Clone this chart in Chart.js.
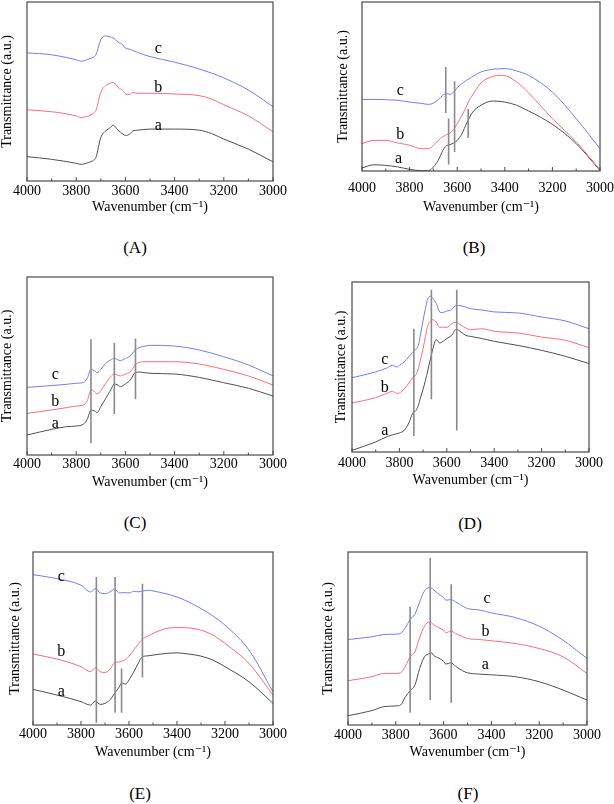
<!DOCTYPE html>
<html>
<head>
<meta charset="utf-8">
<title>FTIR spectra (A)-(F)</title>
<script src="https://cdn.jsdelivr.net/npm/chart.js@4.4.1/dist/chart.umd.min.js"></script>
<style>
  html, body { margin: 0; padding: 0; background: #fff; }
  body { position: relative; width: 614px; height: 804px; overflow: hidden; }
  canvas { position: absolute; }
  .tag {
    position: absolute;
    font: 17px "Liberation Serif", "DejaVu Serif", serif;
    color: #000;
    transform: translate(-50%, -50%);
    white-space: nowrap;
  }
</style>
</head>
<body>
<script>
// ============================================
// Data - wavenumber (cm-1) and transmittance (a.u., 0..100 of plot height)
// ============================================
const waveA = [4000, 3900, 3800, 3780, 3750, 3730, 3720, 3700, 3680, 3660, 3650, 3630, 3610, 3600, 3580, 3570, 3550, 3500, 3400, 3300, 3250, 3200, 3100, 3000]
const cA = [71.6, 70.5, 67.7, 66.9, 68.2, 69.2, 70.5, 78.9, 81.1, 80.4, 80.0, 77.6, 76.0, 74.2, 73.6, 72.9, 71.8, 69.5, 66.4, 62.6, 60.3, 57.6, 50.8, 41.5]
const bA = [39.8, 38.7, 36.4, 35.5, 36.4, 37.8, 39.3, 49.5, 53.3, 54.6, 55.1, 52.3, 50.5, 48.6, 48.4, 49.5, 49.0, 49.0, 48.6, 47.7, 45.8, 42.6, 36.4, 27.5]
const aA = [13.6, 12.1, 9.9, 9.3, 10.3, 11.6, 13.1, 24.3, 28.0, 29.9, 31.2, 28.4, 26.2, 25.4, 26.5, 28.0, 28.4, 29.0, 29.0, 28.4, 26.5, 23.4, 17.8, 10.7]

const waveB = [4000, 3950, 3900, 3850, 3800, 3750, 3720, 3700, 3680, 3660, 3645, 3630, 3615, 3600, 3580, 3560, 3550, 3540, 3500, 3450, 3420, 3400, 3350, 3300, 3200, 3100, 3000]
const cB = [42.2, 42.4, 42.2, 41.8, 40.8, 40.0, 39.4, 40.2, 42.2, 44.8, 45.8, 45.4, 46.7, 49.3, 51.7, 53.8, 54.6, 55.5, 58.6, 60.2, 60.5, 60.6, 59.2, 56.6, 46.7, 31.0, 13.2]
const bB = [16.2, 18.1, 18.1, 16.6, 15.2, 13.2, 13.2, 15.2, 18.0, 20.3, 21.5, 22.5, 24.5, 28.0, 33.0, 38.5, 41.8, 44.0, 52.1, 56.0, 56.6, 56.4, 52.7, 46.2, 31.0, 17.2, 0.8]
const aB = [1.8, 3.7, 3.3, 2.4, 1.0, 0.2, 0.2, 2.4, 6.3, 12.2, 15.0, 15.6, 16.6, 18.1, 22.1, 28.4, 31.0, 33.9, 38.9, 41.4, 41.2, 40.8, 38.9, 35.5, 27.6, 16.2, 0.3]

const waveC = [4000, 3900, 3840, 3800, 3770, 3755, 3740, 3725, 3715, 3700, 3680, 3660, 3645, 3630, 3620, 3600, 3580, 3560, 3540, 3520, 3500, 3400, 3300, 3200, 3100, 3000]
const cC = [38.0, 39.0, 39.7, 40.3, 40.8, 43.1, 48.1, 47.2, 46.3, 48.1, 51.5, 53.4, 54.3, 53.4, 53.0, 54.3, 55.6, 59.0, 60.5, 61.2, 61.6, 61.2, 59.0, 55.2, 50.6, 44.4]
const bC = [23.4, 25.3, 26.6, 27.5, 28.1, 30.5, 36.5, 35.6, 34.3, 36.1, 40.3, 44.0, 45.5, 44.8, 44.4, 45.5, 46.8, 50.6, 52.2, 52.4, 52.4, 52.4, 51.1, 48.1, 44.4, 39.3]
const aC = [11.2, 14.4, 15.9, 16.3, 17.4, 20.0, 25.3, 24.7, 23.8, 27.2, 31.8, 36.5, 39.9, 39.3, 38.4, 39.9, 42.1, 46.3, 46.6, 46.2, 45.9, 45.5, 43.6, 40.6, 37.5, 33.1]

const waveD = [4000, 3900, 3850, 3830, 3810, 3800, 3780, 3760, 3745, 3730, 3720, 3710, 3700, 3690, 3680, 3670, 3660, 3645, 3630, 3620, 3600, 3580, 3560, 3540, 3520, 3500, 3450, 3400, 3300, 3200, 3100, 3000]
const cD = [43.7, 47.1, 49.6, 51.0, 50.0, 51.0, 53.0, 56.0, 58.5, 60.5, 62.7, 70.0, 77.5, 84.5, 90.2, 91.6, 90.5, 87.5, 82.4, 82.0, 82.9, 83.7, 86.3, 86.0, 85.3, 84.3, 83.5, 82.4, 81.8, 79.4, 77.1, 72.5]
const bD = [28.8, 32.0, 34.7, 35.7, 34.5, 34.7, 37.0, 40.5, 43.5, 45.5, 49.0, 55.0, 60.8, 68.0, 74.5, 76.8, 77.8, 76.5, 73.1, 73.5, 73.3, 75.5, 76.3, 74.5, 73.0, 72.0, 72.5, 71.0, 70.0, 67.6, 65.7, 61.4]
const aD = [1.0, 5.9, 9.2, 10.0, 10.8, 11.2, 12.7, 17.1, 22.5, 24.5, 27.5, 32.4, 37.0, 42.2, 48.0, 54.3, 60.0, 66.1, 64.1, 64.7, 66.7, 68.6, 72.2, 70.6, 68.6, 68.0, 66.7, 65.1, 62.7, 59.8, 56.3, 52.0]

const waveE = [4000, 3900, 3800, 3760, 3740, 3720, 3700, 3680, 3660, 3640, 3630, 3615, 3600, 3580, 3560, 3545, 3520, 3500, 3450, 3400, 3350, 3300, 3250, 3200, 3100, 3000]
const cE = [86.9, 84.6, 80.8, 76.9, 78.8, 76.3, 75.9, 76.9, 78.5, 76.3, 76.5, 76.5, 76.3, 77.3, 77.0, 77.3, 77.9, 77.5, 76.0, 74.0, 71.0, 67.3, 63.0, 57.7, 43.3, 19.2]
const bE = [41.0, 38.1, 33.7, 30.8, 33.1, 30.8, 30.4, 32.1, 36.0, 36.5, 37.0, 37.7, 39.8, 43.3, 47.0, 49.5, 51.5, 52.9, 55.6, 56.3, 56.1, 54.8, 51.9, 47.1, 35.6, 17.3]
const aE = [20.6, 17.3, 13.5, 11.5, 13.8, 11.9, 12.5, 14.4, 18.3, 22.1, 24.4, 23.6, 26.0, 30.8, 36.0, 39.4, 40.0, 40.4, 41.3, 41.7, 41.0, 39.8, 37.5, 33.7, 25.0, 12.5]

const waveF = [4000, 3900, 3850, 3800, 3780, 3760, 3740, 3720, 3700, 3680, 3660, 3650, 3640, 3620, 3600, 3590, 3570, 3550, 3520, 3500, 3450, 3400, 3300, 3200, 3100, 3000]
const cF = [49.4, 51.0, 52.3, 52.5, 52.9, 56.3, 61.0, 64.0, 71.2, 77.5, 79.4, 79.0, 77.9, 75.6, 73.7, 72.1, 72.5, 71.2, 68.7, 67.3, 66.5, 64.8, 62.1, 57.1, 49.0, 38.5]
const bF = [25.6, 27.9, 29.8, 29.8, 30.2, 34.0, 39.4, 42.3, 50.6, 57.1, 59.6, 59.0, 57.7, 56.3, 54.8, 53.3, 54.4, 52.9, 51.0, 50.0, 49.4, 48.7, 47.1, 44.2, 39.4, 29.8]
const aF = [5.4, 8.3, 10.6, 11.0, 11.5, 16.3, 19.8, 23.1, 32.7, 39.4, 41.3, 41.7, 40.0, 38.7, 36.8, 35.2, 36.0, 34.0, 31.3, 30.2, 29.4, 29.0, 27.9, 25.0, 20.2, 14.4]

// reference band markers (vertical grey lines): wavenumber, upper and lower end
const markB = [3648, 3611, 3636, 3554]
const markTopB = [61.5, 53.1, 31.0, 36.7]
const markBotB = [34.3, 11.2, 3.9, 19.5]
const markC = [3740, 3645, 3559]
const markTopC = [65.0, 63.1, 65.5]
const markBotC = [6.6, 23.0, 31.3]
const markD = [3739, 3665, 3558]
const markTopD = [72.5, 95.5, 95.5]
const markBotD = [9.4, 31.0, 12.7]
const markE = [3736, 3658, 3631, 3544]
const markTopE = [85.6, 85.6, 32.7, 81.7]
const markBotE = [1.3, 7.1, 7.1, 27.5]
const markF = [3740, 3656, 3568]
const markTopF = [68.3, 96.7, 81.3]
const markBotF = [7.1, 14.4, 12.9]

// curve letters: c, b, a
const letterNames = ["c", "b", "a"]
const letterWaveA = [3466, 3466, 3466]
const letterYA = [73.8, 52.0, 30.8]
const letterWaveB = [3839, 3839, 3846]
const letterYB = [47.3, 21.7, 7.3]
const letterWaveC = [3885, 3885, 3885]
const letterYC = [44.9, 30.0, 17.4]
const letterWaveD = [3862, 3862, 3862]
const letterYD = [54.3, 37.8, 12.4]
const letterWaveE = [3882, 3882, 3882]
const letterYE = [85.6, 42.3, 19.2]
const letterWaveF = [3418, 3425, 3425]
const letterYF = [73.1, 53.8, 34.6]

// ============================================
// Style / layout
// ============================================
const FONT = '"Liberation Serif", "DejaVu Serif", serif'
const COLORS = { a: "#505050", b: "#ff6b78", c: "#6f7dff", mark: "#8a8a8a", frame: "#4a4a4a" }
const PAD_TOP = 8

// frame = [left, right, top, bottom] of the plot box on the page
const PANELS = [
  { tag: "(A)", tagX: 135, tagY: 248, frame: [27, 273, 2, 181], yw: 28, tickPad: 2, xh: 35, padRight: 16,
    wave: waveA, series: [cA, bA, aA], marks: [[], [], []], letters: [letterWaveA, letterYA] },
  { tag: "(B)", tagX: 474, tagY: 248, frame: [362, 600, 2, 171], yw: 27, tickPad: 9, xh: 45, padRight: 14,
    wave: waveB, series: [cB, bB, aB], marks: [markB, markTopB, markBotB], letters: [letterWaveB, letterYB] },
  { tag: "(C)", tagX: 135, tagY: 523, frame: [27, 273, 277, 455], yw: 28, tickPad: 1, xh: 36, padRight: 16,
    wave: waveC, series: [cC, bC, aC], marks: [markC, markTopC, markBotC], letters: [letterWaveC, letterYC] },
  { tag: "(D)", tagX: 470, tagY: 524, frame: [352, 589, 282, 452], yw: 19, tickPad: 3, xh: 37, padRight: 16,
    wave: waveD, series: [cD, bD, aD], marks: [markD, markTopD, markBotD], letters: [letterWaveD, letterYD] },
  { tag: "(E)", tagX: 140, tagY: 794, frame: [33, 273, 552, 725], yw: 26, tickPad: 1, xh: 36, padRight: 16,
    wave: waveE, series: [cE, bE, aE], marks: [markE, markTopE, markBotE], letters: [letterWaveE, letterYE] },
  { tag: "(F)", tagX: 468, tagY: 794, frame: [348, 587, 552, 725], yw: 28, tickPad: 2, xh: 36, padRight: 16,
    wave: waveF, series: [cF, bF, aF], marks: [markF, markTopF, markBotF], letters: [letterWaveF, letterYF] },
]

// ============================================
// Plugins
// ============================================
// box around the plot + small inward ticks on the bottom axis
const framePlugin = {
  id: "frame",
  afterDraw(chart) {
    const { ctx, chartArea: ca } = chart
    const x = chart.scales.x
    ctx.save()
    ctx.strokeStyle = COLORS.frame
    ctx.lineWidth = 1.2
    ctx.strokeRect(ca.left, ca.top, ca.right - ca.left, ca.bottom - ca.top)
    ctx.lineWidth = 1
    for (let w = 3000; w <= 4000; w += 100) {
      const px = x.getPixelForValue(w)
      const len = w % 200 === 0 ? 4 : 2.5
      ctx.beginPath()
      ctx.moveTo(px, ca.bottom)
      ctx.lineTo(px, ca.bottom - len)
      ctx.stroke()
    }
    ctx.restore()
  },
}

// curve letters a / b / c placed in data units
const lettersPlugin = {
  id: "letters",
  afterDatasetsDraw(chart, args, opts) {
    const { ctx } = chart
    const { x, y } = chart.scales
    const [waves, vals] = opts.items
    ctx.save()
    ctx.fillStyle = "#000"
    ctx.font = "16px " + FONT
    ctx.textAlign = "center"
    ctx.textBaseline = "middle"
    letterNames.forEach((name, i) => {
      ctx.fillText(name, x.getPixelForValue(waves[i]), y.getPixelForValue(vals[i]))
    })
    ctx.restore()
  },
}

// ============================================
// Build panels
// ============================================
function spectrum(wave, vals, color) {
  return {
    data: wave.map((w, i) => ({ x: w, y: vals[i] })),
    borderColor: color,
    borderWidth: 1,
    pointRadius: 0,
    fill: false,
    cubicInterpolationMode: "monotone",
  }
}

function markLine(w, top, bottom) {
  return {
    data: [{ x: w, y: top }, { x: w, y: bottom }],
    borderColor: COLORS.mark,
    borderWidth: 1.6,
    pointRadius: 0,
    fill: false,
  }
}

function makePanel(p) {
  const [L, R, T, B] = p.frame
  const canvas = document.createElement("canvas")
  const w = p.yw + (R - L) + p.padRight
  const h = PAD_TOP + (B - T) + p.xh
  canvas.width = w
  canvas.height = h
  canvas.style.width = w + "px"
  canvas.style.height = h + "px"
  canvas.style.left = L - p.yw + "px"
  canvas.style.top = T - PAD_TOP + "px"
  document.body.appendChild(canvas)

  const tag = document.createElement("div")
  tag.className = "tag"
  tag.textContent = p.tag
  tag.style.left = p.tagX + "px"
  tag.style.top = p.tagY + "px"
  document.body.appendChild(tag)

  const [mx, mt, mb] = p.marks
  const datasets = mx.map((m, i) => markLine(m, mt[i], mb[i]))
  datasets.push(spectrum(p.wave, p.series[0], COLORS.c))
  datasets.push(spectrum(p.wave, p.series[1], COLORS.b))
  datasets.push(spectrum(p.wave, p.series[2], COLORS.a))

  new Chart(canvas.getContext("2d"), {
    type: "line",
    data: { datasets },
    plugins: [framePlugin, lettersPlugin],
    options: {
      responsive: false,
      devicePixelRatio: 1,
      animation: false,
      layout: { padding: { left: 0, top: PAD_TOP, right: p.padRight, bottom: 0 } },
      plugins: {
        legend: { display: false },
        tooltip: { enabled: false },
        letters: { items: p.letters },
      },
      scales: {
        x: {
          type: "linear",
          reverse: true,
          min: 3000,
          max: 4000,
          grid: { display: false, drawTicks: false },
          border: { display: false },
          ticks: {
            stepSize: 200,
            padding: p.tickPad,
            color: "#000",
            font: { family: FONT, size: 14 },
            maxRotation: 0,
            autoSkip: false,
            callback: (v) => String(v),
          },
          title: {
            display: true,
            text: "Wavenumber (cm\u207B\u00B9)",
            color: "#000",
            font: { family: FONT, size: 14 },
            padding: 0,
          },
          afterFit(s) {
            s.height = p.xh
            s.paddingLeft = 0
            s.paddingRight = 0
          },
        },
        y: {
          type: "linear",
          min: 0,
          max: 100,
          grid: { display: false, drawTicks: false },
          border: { display: false },
          ticks: { display: false },
          title: {
            display: true,
            text: "Transmittance (a.u.)",
            color: "#000",
            font: { family: FONT, size: 14 },
            padding: 0,
          },
          afterFit(s) {
            s.width = p.yw
          },
        },
      },
    },
  })
}

PANELS.forEach(makePanel)
</script>
</body>
</html>
